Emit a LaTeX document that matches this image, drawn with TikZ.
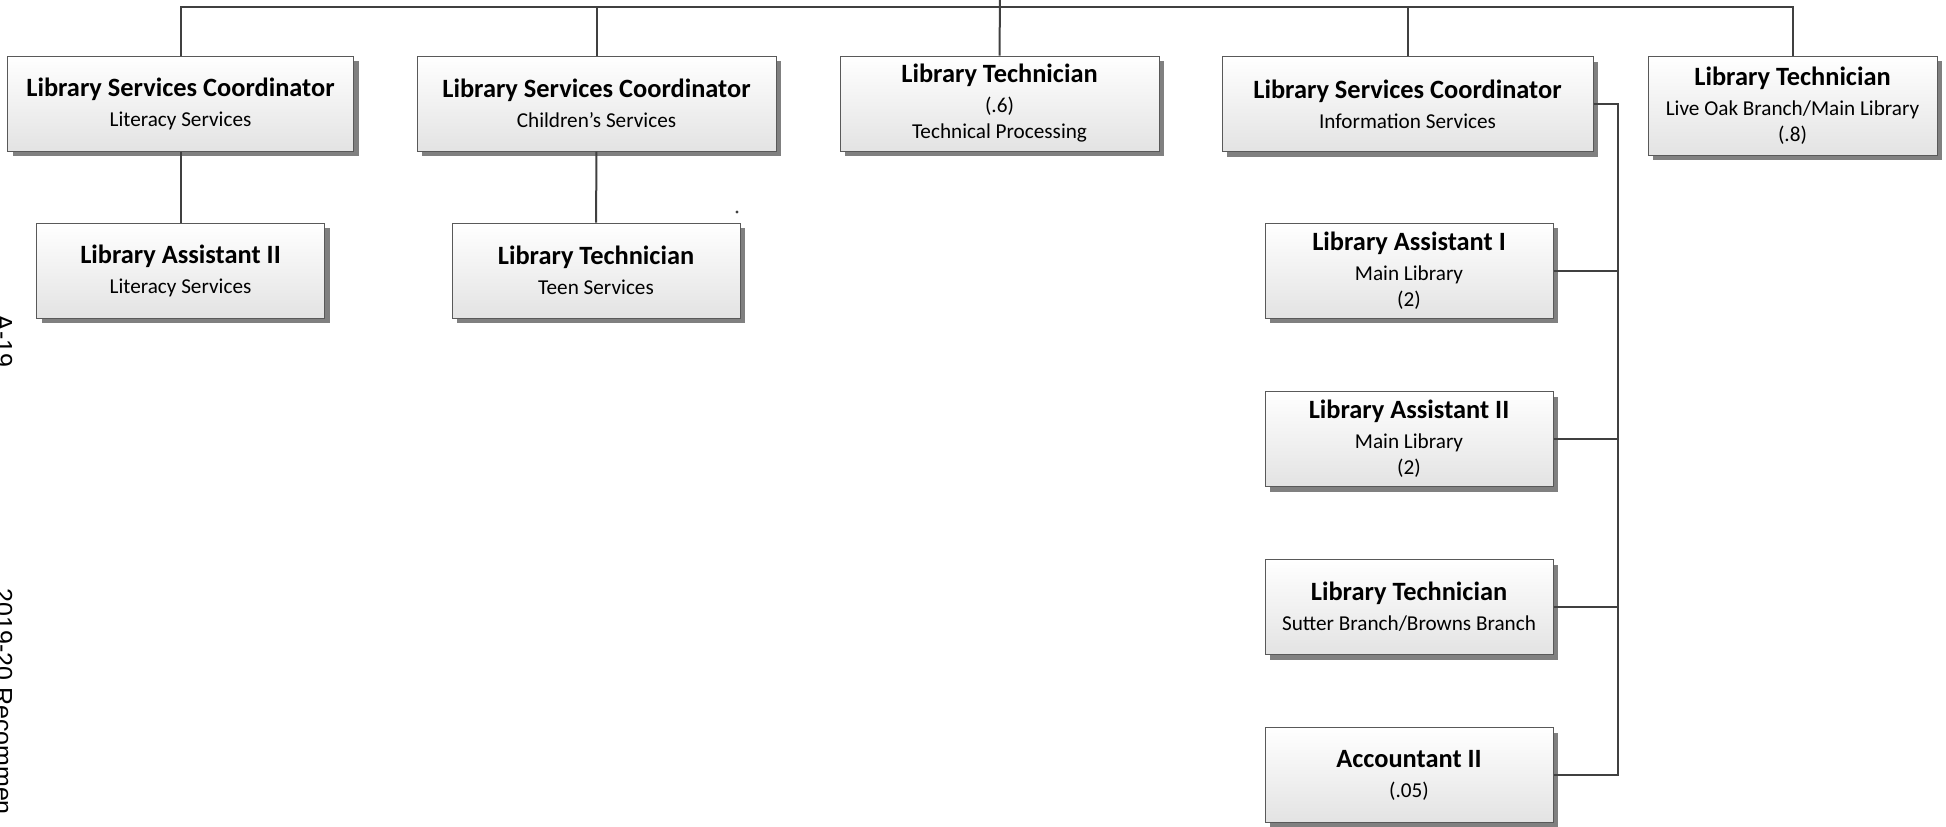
\documentclass[tikz,border=0pt]{standalone}
\usepackage{fontspec}
\setmainfont{Carlito}
\newfontfamily\pagefont{Liberation Sans}
\usetikzlibrary{shadows}
\tikzset{
	posbox/.style={draw=black!65, line width=0.5pt, top color=white, bottom color=black!11,
		drop shadow={shadow xshift=2.5pt, shadow yshift=-2.5pt, fill=black!50, opacity=1},
		inner sep=0pt, minimum width=144pt, minimum height=47.5pt, align=center,
		font=\fontsize{10.6}{13}\selectfont},
	link/.style={draw=black!75, line width=1pt},
	pagetext/.style={font=\pagefont\fontsize{12.5}{15}\selectfont, inner sep=0pt, rotate=-90, anchor=base west}
}
\newcommand{\jobtitle}[1]{{\fontsize{13.2}{16}\selectfont\bfseries #1}\\[2pt]}

\begin{document}
\begin{tikzpicture}[x=0.5pt, y=-0.5pt]
			%%%%% START %%%%%
			\useasboundingbox (0, 0) rectangle (1946, 826);
			
			\node[posbox, minimum width=173pt] (lsc-lit) at (180.5, 103.5) {\jobtitle{Library Services Coordinator}Literacy Services};
			\node[posbox] (la2-lit) at (180.5, 270.5) {\jobtitle{Library Assistant II}Literacy Services};
			
			\node[posbox, minimum width=179.5pt] (lsc-child) at (596.5, 103.5) {\jobtitle{Library Services Coordinator}Children’s Services};
			\node[posbox] (tech-teen) at (596, 270.5) {\jobtitle{Library Technician}Teen Services};
			
			\node[posbox, minimum width=159.5pt] (tech-proc) at (999.5, 103.5) {\jobtitle{Library Technician}(.6)\\Technical Processing};
			
			\node[posbox, minimum width=185.5pt] (lsc-info) at (1407.5, 104) {\jobtitle{Library Services Coordinator}Information Services};
			\node[posbox] (la1-main) at (1409, 270.5) {\jobtitle{Library Assistant I}Main Library\\(2)};
			\node[posbox] (la2-main) at (1409, 439) {\jobtitle{Library Assistant II}Main Library\\(2)};
			\node[posbox] (tech-sutter) at (1409, 607) {\jobtitle{Library Technician}Sutter Branch/Browns Branch};
			\node[posbox] (acct) at (1409, 775) {\jobtitle{Accountant II}(.05)};
			
			\node[posbox, minimum width=144.5pt, minimum height=49.5pt] (tech-oak) at (1792.5, 105.5) {\jobtitle{Library Technician}Live Oak Branch/Main Library\\(.8)};
			
			\coordinate (top) at (1000, -5);
			\coordinate (bus) at (1000, 7);
			\coordinate (spine) at (1618, 104);
			
			\draw[link] (top) -- (tech-proc.north);
			\foreach \b in {lsc-lit, lsc-child, lsc-info, tech-oak}
				\draw[link] (\b.north) |- (bus);
			\draw[link] (lsc-lit) -- (la2-lit);
			\draw[link] (lsc-child) -- (tech-teen);
			
			\draw[link] (lsc-info.east) -- (spine) |- (acct.east);
			\foreach \b in {la1-main, la2-main, tech-sutter}
				\draw[link] (\b.east) -- (\b.east -| spine);
			
			\fill[black!75] (737, 212) circle (0.8pt);
			
			\node[pagetext] (page-no) at (-5, 314) {A-19};
			\node[pagetext] (page-foot) at (-5, 588) {2019-20 Recommen};
			%%%%% END %%%%%
\end{tikzpicture}
\end{document}
